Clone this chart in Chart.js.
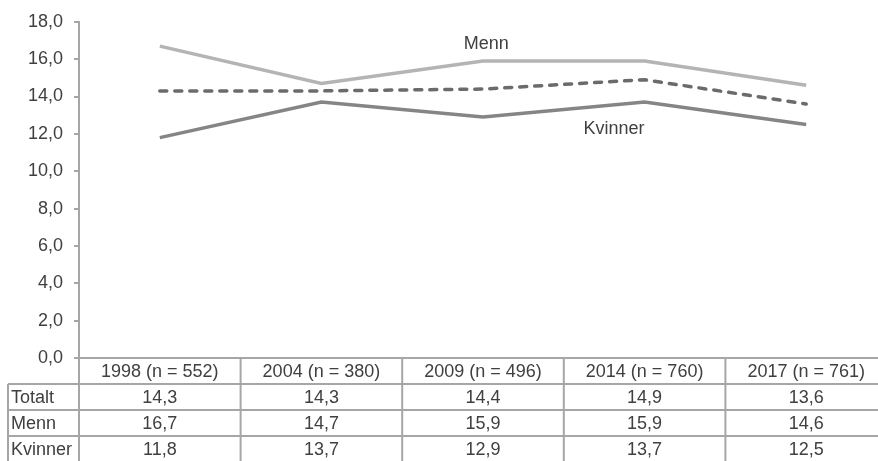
<!DOCTYPE html>
<html>
<head>
<meta charset="utf-8">
<script src="https://cdn.jsdelivr.net/npm/chart.js@4/dist/chart.umd.min.js"></script>
<style>
html,body{margin:0;padding:0;overflow:hidden;background:#fff;width:878px;height:461px;}
canvas{display:block;}
</style>
</head>
<body>
<canvas id="c" width="890" height="461"></canvas>
<script>
const categories = ["1998 (n = 552)", "2004 (n = 380)", "2009 (n = 496)", "2014 (n = 760)", "2017 (n = 761)"];
const totalt  = [14.3, 14.3, 14.4, 14.9, 13.6];
const menn    = [16.7, 14.7, 15.9, 15.9, 14.6];
const kvinner = [11.8, 13.7, 12.9, 13.7, 12.5];
const rowLabels = ["Totalt", "Menn", "Kvinner"];
const yTicks = [0, 2, 4, 6, 8, 10, 12, 14, 16, 18];

const fmt = v => v.toFixed(1).replace('.', ',');
const FONT = '18px "Liberation Sans", Arial, sans-serif';
const TEXT = '#404040';
const LINE = '#a6a6a6';

const tablePlugin = {
  id: 'tablePlugin',
  afterDraw(chart) {
    const ctx = chart.ctx;
    const x = chart.scales.x;
    const area = chart.chartArea;
    const n = categories.length;
    const bw = (area.right - area.left) / n;
    const top = area.bottom;
    const rh = 26;
    const rows = [categories, totalt.map(fmt), menn.map(fmt), kvinner.map(fmt)];
    ctx.save();
    ctx.strokeStyle = LINE;
    ctx.lineWidth = 2;
    // horizontal lines
    for (let r = 0; r <= 4; r++) {
      const y = top + r * rh;
      ctx.beginPath();
      ctx.moveTo(r === 0 ? area.left : 8, y);
      ctx.lineTo(area.right, y);
      ctx.stroke();
    }
    // vertical lines
    for (let i = 0; i <= n; i++) {
      const xx = area.left + i * bw;
      ctx.beginPath();
      ctx.moveTo(xx, top);
      ctx.lineTo(xx, top + 4 * rh + 5);
      ctx.stroke();
    }
    ctx.beginPath();
    ctx.moveTo(8, top + rh);
    ctx.lineTo(8, top + 4 * rh + 5);
    ctx.stroke();
    // text
    ctx.fillStyle = TEXT;
    ctx.font = FONT;
    ctx.textBaseline = 'middle';
    ctx.textAlign = 'center';
    rows.forEach((row, r) => {
      row.forEach((t, i) => {
        ctx.fillText(t, x.getPixelForValue(i), top + r * rh + rh / 2 + 1);
      });
    });
    ctx.textAlign = 'left';
    rowLabels.forEach((t, r) => {
      ctx.fillText(t, 11, top + (r + 1) * rh + rh / 2 + 1);
    });
    // series labels
    const y = chart.scales.y;
    ctx.textAlign = 'center';
    ctx.fillText('Menn', x.getPixelForValue(2.02), y.getPixelForValue(16.8));
    ctx.fillText('Kvinner', x.getPixelForValue(2.81), y.getPixelForValue(12.25));
    ctx.restore();
  }
};

new Chart(document.getElementById('c'), {
  type: 'line',
  data: {
    labels: categories,
    datasets: [
      { label: 'Menn', data: menn, borderColor: '#b4b4b4', borderWidth: 3.5, pointRadius: 0, tension: 0 },
      { label: 'Kvinner', data: kvinner, borderColor: '#858585', borderWidth: 3.5, pointRadius: 0, tension: 0 },
      { label: 'Totalt', data: totalt, borderColor: '#6b6b6b', borderWidth: 3.5, pointRadius: 0, tension: 0,
        borderDash: [7, 8], borderCapStyle: 'round' }
    ]
  },
  options: {
    responsive: false,
    animation: false,
    layout: { padding: { top: 20, bottom: 103, left: 0, right: 3 } },
    plugins: { legend: { display: false }, tooltip: { enabled: false } },
    scales: {
      x: {
        type: 'category',
        offset: true,
        display: false
      },
      y: {
        min: 0, max: 18,
        afterFit: s => { s.width = 79; },
        afterBuildTicks: s => { s.ticks = yTicks.map(v => ({ value: v })); },
        ticks: {
          callback: v => fmt(v),
          color: TEXT,
          font: { family: '"Liberation Sans", Arial, sans-serif', size: 18 },
          padding: 11
        },
        grid: { drawOnChartArea: false, color: LINE, lineWidth: 2, tickLength: 5 },
        border: { color: LINE, width: 2 }
      }
    }
  },
  plugins: [tablePlugin]
});
</script>
</body>
</html>
